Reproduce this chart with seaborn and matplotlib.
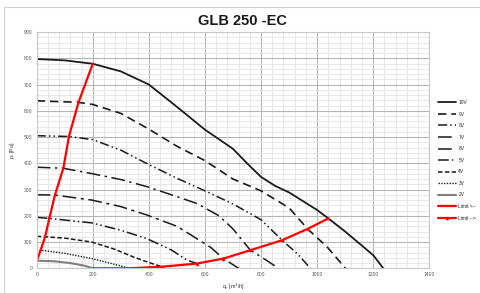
import matplotlib
matplotlib.use("Agg")
import matplotlib.pyplot as plt
import seaborn as sns
from matplotlib.patches import Rectangle
from matplotlib.ticker import MultipleLocator

# fan curves: flow q [m3/h] and static pressure p [Pa]
q_10v = [0, 100, 200, 300, 400, 500, 600, 700, 750, 800, 850, 900, 1000, 1040, 1100, 1200, 1236]
p_10v = [797, 792, 779, 750, 700, 615, 528, 455, 400, 348, 314, 289, 222, 190, 140, 50, 0]
q_9v = [0, 100, 149, 200, 300, 400, 500, 600, 700, 800, 900, 966, 1036, 1101]
p_9v = [638, 634, 632, 624, 590, 530, 465, 410, 340, 295, 230, 150, 81, 0]
q_8v = [0, 115, 200, 300, 400, 500, 600, 700, 800, 875, 930, 976]
p_8v = [505, 502, 490, 450, 395, 343, 295, 245, 185, 107, 55, 0]
q_7v = [0, 95, 200, 300, 393, 500, 571, 650, 700, 762, 820, 862]
p_7v = [385, 381, 360, 338, 311, 273, 247, 200, 150, 69, 30, 0]
q_6v = [0, 65, 196, 300, 393, 500, 571, 620, 666, 720]
p_6v = [280, 279, 260, 235, 203, 160, 113, 80, 37, 0]
q_5v = [0, 45, 196, 300, 393, 480, 536, 571, 583]
p_5v = [194, 190, 173, 145, 113, 70, 31, 18, 0]
q_4v = [0, 30, 100, 196, 280, 345, 400, 446, 455]
p_4v = [122, 120, 115, 100, 72, 43, 22, 6, 0]
q_3v = [0, 14, 100, 196, 260, 300, 330]
p_3v = [68, 69, 57, 37, 20, 9, 0]
q_2v = [0, 60, 120, 170, 200]
p_2v = [29, 27, 20, 10, 0]

# operating limits
q_lim_left = [0, 14, 30, 45, 65, 95, 115, 149, 200]
p_lim_left = [28, 69, 120, 190, 279, 381, 502, 632, 779]
q_lim_right = [200, 330, 446, 571, 666, 762, 875, 966, 1040]
p_lim_right = [0, 0, 6, 18, 37, 69, 107, 150, 190]

curves = [
    ("10V", q_10v, p_10v, "-", "#1a1a1a", 1.3),
    ("9V", q_9v, p_9v, (0, (5, 3)), "#1a1a1a", 1.2),
    ("8V", q_8v, p_8v, (0, (6, 2, 1, 2, 1, 2)), "#1a1a1a", 1.1),
    ("7V", q_7v, p_7v, (0, (9, 3, 1.5, 3)), "#1a1a1a", 1.1),
    ("6V", q_6v, p_6v, (0, (9, 3, 2, 3)), "#1a1a1a", 1.1),
    ("5V", q_5v, p_5v, (0, (7, 2, 1, 2, 1, 2)), "#1a1a1a", 1.1),
    ("4V", q_4v, p_4v, (0, (3, 1.5)), "#1a1a1a", 1.1),
    ("3V", q_3v, p_3v, (0, (1, 1)), "#1a1a1a", 1.0),
    ("2V", q_2v, p_2v, "-", "#7f7f7f", 1.5),
]

sns.set_style("white")
plt.rcParams['font.family'] = ['Liberation Sans', 'DejaVu Sans']

fig = plt.figure(figsize=(4.8, 2.93), dpi=100)
ax = fig.add_axes([36.7 / 480, 1 - 268.3 / 293, (429.3 - 36.7) / 480, (268.3 - 32) / 293])

# light frame around the whole picture
fig.patches.append(Rectangle((4 / 480, -0.1), 1.2, 1.1 - 7 / 293, transform=fig.transFigure,
                             fill=False, edgecolor='#d0d0d0', linewidth=0.8))

for label, q, p, ls, color, lw in curves:
    sns.lineplot(x=q, y=p, ax=ax, sort=False, estimator=None, color=color,
                 linestyle=ls, linewidth=lw, label=label)

sns.lineplot(x=q_lim_left, y=p_lim_left, ax=ax, sort=False, estimator=None, color='#ff0000',
             linewidth=1.6, marker='s', markersize=2, markeredgewidth=0, label='Limit <--')
sns.lineplot(x=q_lim_right, y=p_lim_right, ax=ax, sort=False, estimator=None, color='#ff0000',
             linewidth=1.6, marker='^', markersize=2.5, markeredgewidth=0, label='Limit -->')

ax.set_xlim(0, 1400)
ax.set_ylim(0, 900)
ax.xaxis.set_major_locator(MultipleLocator(200))
ax.xaxis.set_minor_locator(MultipleLocator(40))
ax.yaxis.set_major_locator(MultipleLocator(100))
ax.yaxis.set_minor_locator(MultipleLocator(20))
ax.grid(which='major', color='#b4b4b4', linewidth=0.75)
ax.grid(which='minor', color='#e4e4e4', linewidth=0.6)
ax.set_axisbelow(True)
for s in ax.spines.values():
    s.set_color('#c8c8c8')
    s.set_linewidth(0.8)
ax.tick_params(which='both', length=0, labelsize=3.6, labelcolor='#555555', pad=3)

ax.set_xlabel(r'q$_v$ [m$^3$/h]', fontsize=3.8, color='#333333', labelpad=3)
ax.set_ylabel(r'p$_s$ [Pa]', fontsize=3.8, color='#333333', labelpad=5)

fig.text(243 / 480, 1 - 21 / 293, 'GLB 250 -EC', ha='center', va='center',
         fontsize=10.5, fontweight='bold', color='#1a1a1a')

handles, labels = ax.get_legend_handles_labels()
ax.get_legend().remove()
fig.legend(handles, labels, loc='upper left', bbox_to_anchor=(438 / 480, 1 - 100 / 293),
           frameon=False, fontsize=3.5, labelspacing=1.35, handlelength=3.6,
           handletextpad=0.6, borderpad=0, borderaxespad=0)

fig.savefig('out.png', dpi=100)
